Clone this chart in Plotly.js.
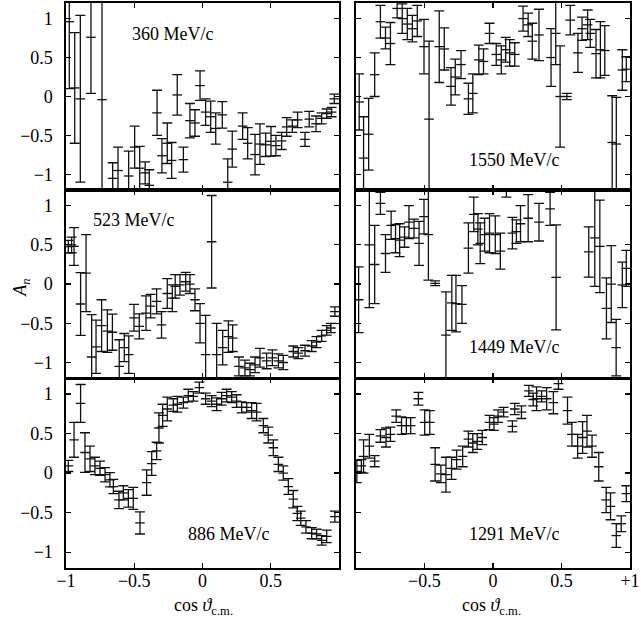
<!DOCTYPE html>
<html>
<head>
<meta charset="utf-8">
<script src="https://cdn.plot.ly/plotly-3.0.1.min.js"></script>
<style>
  html, body { margin: 0; padding: 0; background: #fff; }
  #chart { width: 641px; height: 618px; }
</style>
</head>
<body>
<div id="chart"></div>
<script>
// analysing power A_n vs cos(theta_cm), six beam momenta

// 360 MeV/c
var x360 = [-0.976, -0.936, -0.895, -0.817, -0.736, -0.658, -0.619, -0.541, -0.497, -0.46, -0.42, -0.39, -0.333, -0.297, -0.258, -0.226, -0.185, -0.14, -0.092, -0.055, -0.018, 0.023, 0.06, 0.097, 0.145, 0.185, 0.218, 0.294, 0.331, 0.385, 0.421, 0.463, 0.502, 0.538, 0.58, 0.617, 0.658, 0.697, 0.751, 0.782, 0.832, 0.873, 0.91, 0.946, 0.966];
var a360 = [0.96, 0.11, -0.03, 0.76, -0.04, -1.05, -0.95, -1.02, -0.65, -0.92, -0.98, -1.14, -0.21, -0.76, -0.6, -0.82, 0.02, -0.81, -0.31, -0.34, 0.14, -0.2, -0.26, -0.41, -0.235, -1.1, -0.675, -0.38, -0.6, -0.745, -0.61, -0.62, -0.575, -0.63, -0.57, -0.39, -0.38, -0.30, -0.55, -0.29, -0.35, -0.28, -0.22, -0.2, -0.03];
var e360 = [0.86, 0.71, 1.07, 0.72, 1.5, 0.2, 0.3, 0.32, 0.27, 0.28, 0.14, 0.2, 0.29, 0.22, 0.26, 0.23, 0.26, 0.16, 0.22, 0.17, 0.19, 0.17, 0.2, 0.2, 0.17, 0.3, 0.23, 0.17, 0.2, 0.26, 0.26, 0.15, 0.19, 0.13, 0.11, 0.12, 0.08, 0.1, 0.09, 0.1, 0.1, 0.07, 0.06, 0.06, 0.06];

// 523 MeV/c
var x523 = [-0.983, -0.959, -0.941, -0.893, -0.853, -0.812, -0.78, -0.739, -0.697, -0.66, -0.61, -0.573, -0.54, -0.502, -0.463, -0.414, -0.38, -0.336, -0.30, -0.258, -0.221, -0.20, -0.165, -0.123, -0.092, -0.055, -0.018, 0.023, 0.067, 0.104, 0.148, 0.19, 0.221, 0.267, 0.311, 0.348, 0.385, 0.421, 0.47, 0.512, 0.556, 0.592, 0.665, 0.702, 0.751, 0.80, 0.836, 0.873, 0.91, 0.94, 0.97];
var a523 = [0.477, 0.5, 0.48, -0.254, 0.14, -0.93, -0.8, -0.53, -0.6, -0.614, -1.05, -0.81, -0.9, -0.43, -0.54, -0.37, -0.28, -0.22, -0.52, -0.12, -0.18, -0.03, -0.01, 0.03, 0.0, -0.2, -0.5, -0.9, 0.54, -0.9, -0.81, -0.67, -0.69, -1.05, -1.07, -1.09, -1.03, -0.94, -0.98, -0.94, -0.98, -1.0, -0.86, -0.88, -0.85, -0.79, -0.74, -0.66, -0.59, -0.56, -0.35];
var e523 = [0.08, 0.1, 0.24, 0.4, 0.49, 0.54, 0.34, 0.33, 0.27, 0.23, 0.34, 0.18, 0.24, 0.17, 0.16, 0.22, 0.15, 0.16, 0.17, 0.19, 0.17, 0.15, 0.13, 0.12, 0.12, 0.14, 0.25, 0.5, 0.59, 0.4, 0.22, 0.2, 0.17, 0.12, 0.1, 0.08, 0.1, 0.12, 0.1, 0.1, 0.09, 0.09, 0.07, 0.07, 0.07, 0.07, 0.07, 0.07, 0.06, 0.06, 0.06];

// 886 MeV/c
var x886 = [-0.983, -0.941, -0.893, -0.861, -0.824, -0.788, -0.751, -0.714, -0.678, -0.653, -0.612, -0.58, -0.543, -0.507, -0.458, -0.409, -0.372, -0.336, -0.319, -0.292, -0.258, -0.214, -0.184, -0.14, -0.104, -0.067, -0.023, 0.023, 0.067, 0.104, 0.14, 0.177, 0.214, 0.25, 0.287, 0.324, 0.36, 0.397, 0.446, 0.482, 0.519, 0.556, 0.592, 0.629, 0.665, 0.695, 0.72, 0.758, 0.80, 0.836, 0.873, 0.91, 0.97];
var a886 = [0.09, 0.42, 0.88, 0.26, 0.18, 0.09, 0.06, -0.02, -0.085, -0.17, -0.34, -0.25, -0.32, -0.32, -0.63, -0.12, 0.12, 0.28, 0.57, 0.73, 0.81, 0.86, 0.87, 0.89, 0.98, 0.97, 1.08, 0.94, 0.91, 0.87, 0.94, 0.98, 0.96, 0.91, 0.83, 0.83, 0.79, 0.77, 0.6, 0.48, 0.32, 0.11, 0.0, -0.17, -0.33, -0.51, -0.57, -0.68, -0.76, -0.77, -0.85, -0.8, -0.55];
var e886 = [0.07, 0.22, 0.24, 0.25, 0.16, 0.11, 0.09, 0.09, 0.09, 0.09, 0.11, 0.09, 0.11, 0.14, 0.14, 0.16, 0.15, 0.11, 0.19, 0.14, 0.15, 0.08, 0.1, 0.07, 0.08, 0.06, 0.07, 0.07, 0.07, 0.08, 0.08, 0.08, 0.07, 0.08, 0.07, 0.06, 0.1, 0.11, 0.09, 0.1, 0.1, 0.09, 0.09, 0.1, 0.11, 0.09, 0.09, 0.08, 0.07, 0.06, 0.06, 0.08, 0.07];

// 1550 MeV/c
var x1550 = [-0.976, -0.944, -0.907, -0.863, -0.821, -0.784, -0.748, -0.699, -0.662, -0.625, -0.588, -0.552, -0.503, -0.466, -0.392, -0.355, -0.306, -0.275, -0.233, -0.179, -0.147, -0.103, -0.069, -0.025, 0.024, 0.061, 0.093, 0.122, 0.159, 0.22, 0.257, 0.287, 0.336, 0.424, 0.458, 0.49, 0.539, 0.564, 0.62, 0.65, 0.691, 0.71, 0.752, 0.784, 0.816, 0.87, 0.9, 0.944, 0.973];
var a1550 = [-0.07, -0.79, -0.484, 0.28, 0.96, 0.75, 0.68, 1.13, 1.0, 0.93, 0.87, 0.97, 0.64, -0.29, 0.64, 0.61, 0.13, 0.25, 0.41, -0.03, 0.04, 0.47, 0.45, 0.81, 0.54, 0.47, 0.6, 0.56, 0.54, 1.0, 0.92, 0.71, 0.79, 0.5, 0.81, 0.0, 0.0, 0.98, 0.56, 0.87, 0.92, 0.81, 0.55, 0.6, 0.59, -0.59, -0.61, 0.34, 0.35];
var e1550 = [0.36, 0.53, 0.46, 0.28, 0.21, 0.14, 0.27, 0.12, 0.19, 0.2, 0.17, 0.2, 0.35, 1.0, 0.46, 0.27, 0.24, 0.23, 0.18, 0.2, 0.25, 0.19, 0.16, 0.13, 0.14, 0.18, 0.16, 0.17, 0.15, 0.16, 0.15, 0.23, 0.33, 0.37, 0.4, 0.65, 0.04, 0.19, 0.25, 0.15, 0.19, 0.18, 0.31, 0.36, 0.32, 0.6, 0.6, 0.26, 0.16];

// 1449 MeV/c
var x1449 = [-0.98, -0.902, -0.863, -0.821, -0.784, -0.743, -0.711, -0.681, -0.645, -0.613, -0.576, -0.539, -0.503, -0.471, -0.422, -0.343, -0.3, -0.27, -0.226, -0.179, -0.14, -0.11, -0.093, -0.061, -0.025, 0.017, 0.054, 0.098, 0.142, 0.171, 0.201, 0.257, 0.336, 0.417, 0.461, 0.699, 0.743, 0.78, 0.828, 0.863, 0.899, 0.944, 0.973];
var a1449 = [-0.2, 0.5, 0.25, 1.03, 0.39, 0.75, 0.58, 0.56, 0.6, 0.79, 0.71, 0.52, 0.86, 0.63, 0.01, -0.65, -0.24, -0.25, -0.26, 0.46, 0.89, 0.7, 0.52, 0.63, 0.65, 0.63, 0.42, 1.33, 0.65, 0.67, 0.77, 0.84, 0.79, 0.96, 0.085, 0.41, 0.59, 0.48, -0.31, 0.0, -0.81, -0.01, 0.2];
var e1449 = [0.42, 0.8, 0.5, 0.14, 0.24, 0.18, 0.18, 0.21, 0.13, 0.21, 0.12, 0.28, 0.22, 0.58, 0.03, 0.55, 0.35, 0.36, 0.24, 0.32, 0.22, 0.2, 0.26, 0.21, 0.25, 0.24, 0.23, 0.22, 0.2, 0.15, 0.23, 0.3, 0.24, 0.21, 0.67, 0.32, 0.62, 0.59, 0.39, 0.49, 0.36, 0.29, 0.23];

// 1291 MeV/c
var x1291 = [-0.993, -0.96, -0.944, -0.902, -0.863, -0.821, -0.78, -0.748, -0.706, -0.667, -0.632, -0.6, -0.544, -0.498, -0.461, -0.422, -0.38, -0.343, -0.302, -0.265, -0.221, -0.179, -0.147, -0.115, -0.078, -0.025, 0.007, 0.037, 0.078, 0.142, 0.159, 0.208, 0.262, 0.294, 0.318, 0.355, 0.392, 0.441, 0.478, 0.544, 0.576, 0.618, 0.654, 0.686, 0.723, 0.772, 0.826, 0.858, 0.9, 0.936, 0.973];
var a1291 = [0.02, 0.09, 0.21, 0.34, 0.15, 0.47, 0.45, 0.49, 0.72, 0.6, 0.6, 0.6, 0.94, 0.64, 0.64, 0.11, -0.01, -0.02, 0.06, 0.17, 0.21, 0.43, 0.38, 0.4, 0.45, 0.64, 0.62, 0.72, 0.77, 0.59, 0.81, 0.77, 1.04, 0.93, 0.94, 0.97, 0.94, 0.89, 1.13, 0.79, 0.49, 0.34, 0.45, 0.53, 0.34, 0.08, -0.34, -0.42, -0.79, -0.64, -0.26];
var e1291 = [0.14, 0.08, 0.21, 0.15, 0.07, 0.08, 0.12, 0.09, 0.08, 0.11, 0.1, 0.1, 0.08, 0.16, 0.15, 0.21, 0.11, 0.22, 0.14, 0.12, 0.13, 0.1, 0.12, 0.1, 0.09, 0.09, 0.08, 0.08, 0.06, 0.07, 0.07, 0.08, 0.07, 0.08, 0.15, 0.07, 0.14, 0.14, 0.07, 0.17, 0.15, 0.15, 0.2, 0.2, 0.14, 0.18, 0.16, 0.17, 0.15, 0.1, 0.1];

var labels = ["360 MeV/c", "523 MeV/c", "886 MeV/c", "1550 MeV/c", "1449 MeV/c", "1291 MeV/c"];
var yTicks = [-1, -0.5, 0, 0.5, 1];
var yText = ["\u22121", "\u22120.5", "0", "0.5", "1"];
var xTicksL = [-1, -0.5, 0, 0.5];
var xTextL = ["\u22121", "\u22120.5", "0", "0.5"];
var xTicksR = [-0.5, 0, 0.5, 1];
var xTextR = ["\u22120.5", "0", "0.5", "+1"];

var sets = [
    [x360, a360, e360],
    [x523, a523, e523],
    [x886, a886, e886],
    [x1550, a1550, e1550],
    [x1449, a1449, e1449],
    [x1291, a1291, e1291]
];

var font = { family: "Liberation Serif, serif", size: 18, color: "black" };

var data = sets.map((s, i) => {
    let n = i + 1;
    return {
        x: s[0],
        y: s[1],
        xaxis: "x" + (n === 1 ? "" : n),
        yaxis: "y" + (n === 1 ? "" : n),
        type: "scatter",
        mode: "markers",
        marker: { size: 1, color: "rgba(0,0,0,0)" },
        error_y: { type: "data", array: s[2], visible: true, color: "#111", thickness: 1.3, width: 5 },
        error_x: { type: "constant", value: 0.035, visible: true, color: "#111", thickness: 1.3, width: 0 },
        showlegend: false,
        hoverinfo: "skip"
    };
});

var xDom = [[0, 0.484], [0.514, 1]];
var yDom = [[0.669, 1], [0.336, 0.669], [0, 0.336]];

var layout = {
    width: 641,
    height: 618,
    margin: { l: 66, r: 11, t: 3, b: 50 },
    paper_bgcolor: "white",
    plot_bgcolor: "white",
    font: font,
    annotations: []
};

for (let i = 0; i < 6; i++) {
    let n = i + 1;
    let col = i < 3 ? 0 : 1;
    let row = i % 3;
    let sfx = n === 1 ? "" : n;
    layout["xaxis" + sfx] = {
        domain: xDom[col],
        anchor: "y" + sfx,
        range: [-1, 1],
        showgrid: false,
        zeroline: false,
        showline: true,
        linecolor: "black",
        linewidth: 1.6,
        mirror: "ticks",
        ticks: "inside",
        ticklen: 5,
        tickwidth: 1.2,
        tickcolor: "black",
        tickvals: col === 0 ? xTicksL : xTicksR,
        ticktext: col === 0 ? xTextL : xTextR,
        showticklabels: row === 2,
        ticklabelstandoff: -4,
        tickfont: font
    };
    layout["yaxis" + sfx] = {
        domain: yDom[row],
        anchor: "x" + sfx,
        range: [-1.2, 1.2],
        showgrid: false,
        zeroline: false,
        showline: true,
        linecolor: "black",
        linewidth: 1.6,
        mirror: "ticks",
        ticks: "inside",
        ticklen: 5,
        tickwidth: 1.2,
        tickcolor: "black",
        tickvals: yTicks,
        ticktext: yText,
        showticklabels: col === 0,
        ticklabelstandoff: 8,
        tickfont: font
    };
}

// momentum labels
var labelPos = [[0.189, 0.946], [0.119, 0.616], [0.288, 0.06], [0.794, 0.723], [0.795, 0.392], [0.795, 0.06]];
labels.forEach((t, i) => {
    layout.annotations.push({
        text: t, xref: "paper", yref: "paper",
        x: labelPos[i][0], y: labelPos[i][1],
        xanchor: "center", yanchor: "middle",
        showarrow: false, font: font
    });
});

// axis titles
[0.243, 0.755].forEach((px) => {
    layout.annotations.push({
        text: "cos <i>\u03d1</i><sub>c.m.</sub>", xref: "paper", yref: "paper",
        x: px, y: -0.068, xanchor: "center", yanchor: "middle",
        showarrow: false, font: font
    });
});
layout.annotations.push({
    text: "<i>A</i><sub><i>n</i></sub>", xref: "paper", yref: "paper",
    x: -0.078, y: 0.496, xanchor: "center", yanchor: "middle",
    textangle: -90, showarrow: false, font: font
});

Plotly.newPlot("chart", data, layout, { staticPlot: true });
</script>
</body>
</html>
